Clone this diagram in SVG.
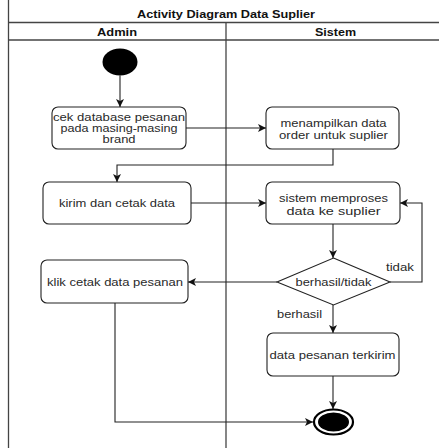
<svg xmlns="http://www.w3.org/2000/svg" width="439" height="448" viewBox="0 0 439 448">
<style>
.lane{stroke:#444;stroke-width:1.3;fill:none}
.box{fill:#fff;stroke:#222;stroke-width:1.1}
.t{font-family:"Liberation Sans",Arial,sans-serif;font-size:11px;fill:#2a2a2a;text-anchor:middle}
.h{font-family:"Liberation Sans",Arial,sans-serif;font-size:10.5px;font-weight:bold;fill:#111;text-anchor:middle}
.c{stroke:#222;stroke-width:1.1;fill:none;marker-end:url(#arr)}
</style>
<defs>
<marker id="arr" markerWidth="9" markerHeight="9" refX="8" refY="4" orient="auto" markerUnits="userSpaceOnUse">
<path d="M0,0 L8,4 L0,8 L2,4 z" fill="#111"/>
</marker>
</defs>
<rect width="439" height="448" fill="#fff"/>
<g id="frame">
<line class="lane" x1="8.5" y1="0" x2="8.5" y2="448"/>
<line class="lane" x1="8.5" y1="22.5" x2="439" y2="22.5"/>
<line class="lane" x1="8.5" y1="40" x2="439" y2="40"/>
<line class="lane" x1="226" y1="22.5" x2="226" y2="448"/>
<text class="h" x="226" y="18" textLength="178" lengthAdjust="spacingAndGlyphs">Activity Diagram Data Suplier</text>
<text class="h" x="117" y="35.5" textLength="40" lengthAdjust="spacingAndGlyphs">Admin</text>
<text class="h" x="335.5" y="35.5" textLength="41" lengthAdjust="spacingAndGlyphs">Sistem</text>
</g>
<g id="connectors">
<path class="c" d="M120,75.5 L120,107"/>
<path class="c" d="M186,128 L266,128"/>
<path class="c" d="M333,149 L333,165 L117,165 L117,182"/>
<path class="c" d="M191,203 L266,203"/>
<path class="c" d="M333,224 L333,258"/>
<path class="c" d="M390,282 L422,282 L422,203 L400,203"/>
<path class="c" d="M277,282 L188,282"/>
<path class="c" d="M333,305 L333,333"/>
<path class="c" d="M333,376 L333,409"/>
<path class="c" d="M115,303 L115,422 L313,422"/>
<text class="t" x="400" y="270.5" textLength="28" lengthAdjust="spacingAndGlyphs">tidak</text>
<text class="t" x="299.5" y="317.5" textLength="45" lengthAdjust="spacingAndGlyphs">berhasil</text>
</g>
<g id="start">
<ellipse cx="120" cy="62" rx="17.5" ry="13.5" fill="#000"/>
</g>
<g id="cek-database">
<rect class="box" x="52" y="107" width="134" height="42" rx="6"/>
<text class="t" x="119" y="121" textLength="132" lengthAdjust="spacingAndGlyphs">cek database pesanan</text>
<text class="t" x="119" y="132" textLength="117" lengthAdjust="spacingAndGlyphs">pada masing-masing</text>
<text class="t" x="119" y="143" textLength="33" lengthAdjust="spacingAndGlyphs">brand</text>
</g>
<g id="menampilkan">
<rect class="box" x="266" y="107" width="133" height="42" rx="6"/>
<text class="t" x="333.5" y="127" textLength="106" lengthAdjust="spacingAndGlyphs">menampilkan data</text>
<text class="t" x="333.5" y="139" textLength="109" lengthAdjust="spacingAndGlyphs">order untuk suplier</text>
</g>
<g id="kirim">
<rect class="box" x="43" y="182" width="148" height="42" rx="6"/>
<text class="t" x="117" y="207" textLength="116" lengthAdjust="spacingAndGlyphs">kirim dan cetak data</text>
</g>
<g id="memproses">
<rect class="box" x="266" y="182" width="134" height="42" rx="6"/>
<text class="t" x="333.5" y="202" textLength="109" lengthAdjust="spacingAndGlyphs">sistem memproses</text>
<text class="t" x="333.5" y="214.5" textLength="94" lengthAdjust="spacingAndGlyphs">data ke suplier</text>
</g>
<g id="decision">
<polygon class="box" points="333.5,258 390,282 333.5,305 277,282"/>
<text class="t" x="333.5" y="286" textLength="76" lengthAdjust="spacingAndGlyphs">berhasil/tidak</text>
</g>
<g id="klik-cetak">
<rect class="box" x="41" y="260" width="147" height="43" rx="6"/>
<text class="t" x="115" y="286" textLength="136" lengthAdjust="spacingAndGlyphs">klik cetak data pesanan</text>
</g>
<g id="terkirim">
<rect class="box" x="267" y="333" width="132" height="43" rx="6"/>
<text class="t" x="332.5" y="359" textLength="126" lengthAdjust="spacingAndGlyphs">data pesanan terkirim</text>
</g>
<g id="end">
<ellipse cx="333.5" cy="422" rx="19.5" ry="12.5" fill="#fff" stroke="#000" stroke-width="2.2"/>
<ellipse cx="333.5" cy="422" rx="15.5" ry="9.5" fill="#000"/>
</g>
</svg>
